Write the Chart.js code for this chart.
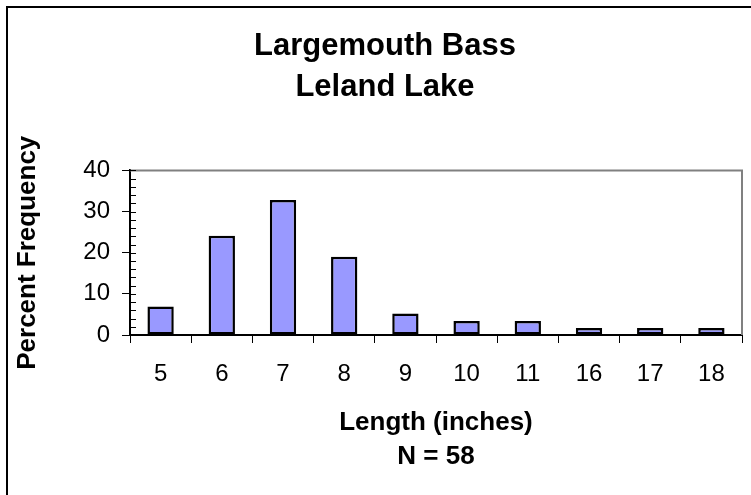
<!DOCTYPE html>
<html><head><meta charset="utf-8">
<script src="https://cdn.jsdelivr.net/npm/chart.js@4"></script>
<style>html,body{margin:0;padding:0;overflow:hidden;background:#fff;width:751px;height:495px}canvas{display:block}</style>
</head><body><canvas id="c" width="770" height="495" style="width:770px;height:495px"></canvas>
<script>
const categories = ['5','6','7','8','9','10','11','16','17','18'];
const percentFrequency = [6.9, 24.1, 32.8, 19.0, 5.2, 3.4, 3.4, 1.7, 1.7, 1.7];
const titleLines = ['Largemouth Bass', 'Leland Lake'];
const xTitleLines = ['Length (inches)', 'N = 58'];
const yTitle = 'Percent Frequency';
const yMin = 0, yMax = 40, yMinorStep = 2, yLabelStep = 10;

Chart.defaults.font.family = "'Liberation Sans', Arial, sans-serif";
Chart.defaults.color = '#000';

const framePlugin = {
  id: 'frame',
  beforeDraw(chart) {
    const c = chart.ctx;
    c.save();
    c.fillStyle = '#fff';
    c.fillRect(0, 0, chart.width, chart.height);
    c.strokeStyle = '#000';
    c.lineWidth = 2;
    c.strokeRect(7, 7, chart.width - 14, chart.height);
    c.restore();
  },
  beforeDatasetsDraw(chart) {
    const a = chart.chartArea, c = chart.ctx;
    c.save();
    c.strokeStyle = '#808080';
    c.lineWidth = 2;
    c.beginPath();
    c.moveTo(a.left, a.top);
    c.lineTo(a.right, a.top);
    c.lineTo(a.right, a.bottom);
    c.stroke();
    const ys = chart.scales.y;
    c.strokeStyle = '#000';
    c.lineWidth = 1;
    ys.ticks.forEach(t => {
      if (t.value === yMin) return;
      const py = Math.round(ys.getPixelForValue(t.value)) + 0.5;
      c.beginPath();
      c.moveTo(a.left, py);
      c.lineTo(a.left + 6, py);
      c.stroke();
    });
    c.restore();
  }
};

new Chart(document.getElementById('c'), {
  type: 'bar',
  data: {
    labels: categories,
    datasets: [{
      data: percentFrequency,
      backgroundColor: '#9999FF',
      borderColor: '#000',
      borderWidth: 2.5,
      borderSkipped: false,
      barPercentage: 0.43,
      categoryPercentage: 1.0
    }]
  },
  options: {
    responsive: false,
    animation: false,
    layout: { padding: 0 },
    plugins: {
      legend: { display: false },
      tooltip: { enabled: false },
      title: {
        display: true,
        text: titleLines,
        color: '#000',
        font: { size: 31, weight: 'bold', lineHeight: 1.33 },
        padding: { top: 26, bottom: 62 }
      }
    },
    scales: {
      x: {
        offset: true,
        grid: { offset: true, drawOnChartArea: false, tickLength: 8, color: '#000', lineWidth: 1 },
        border: { color: '#000', width: 2 },
        ticks: { padding: 17, color: '#000', font: { size: 24 } },
        title: {
          display: true, text: xTitleLines, color: '#000',
          font: { size: 26, weight: 'bold', lineHeight: 1.3 },
          padding: { top: 0, bottom: 21 }
        },
        afterFit(s) { s.height = 160; }
      },
      y: {
        min: yMin, max: yMax,
        ticks: {
          stepSize: yMinorStep, autoSkip: false, padding: 12, color: '#000',
          font: { size: 24 },
          callback: v => (v % yLabelStep === 0 ? String(v) : '')
        },
        grid: {
          drawOnChartArea: false, tickLength: 8, lineWidth: 1,
          tickColor: ctx => (ctx.tick && ctx.tick.value % yLabelStep === 0 ? '#000' : 'rgba(0,0,0,0)')
        },
        border: { color: '#000', width: 2 },
        title: {
          display: true, text: yTitle, color: '#000',
          font: { size: 26, weight: 'bold' },
          padding: { top: 12, bottom: 0 }
        },
        afterFit(s) { s.width = 130; }
      },
      y2: {
        position: 'right', display: true,
        grid: { display: false, drawTicks: false },
        border: { display: false },
        ticks: { display: false },
        afterFit(s) { s.width = 28; }
      }
    }
  },
  plugins: [framePlugin]
});
</script>
</body></html>
